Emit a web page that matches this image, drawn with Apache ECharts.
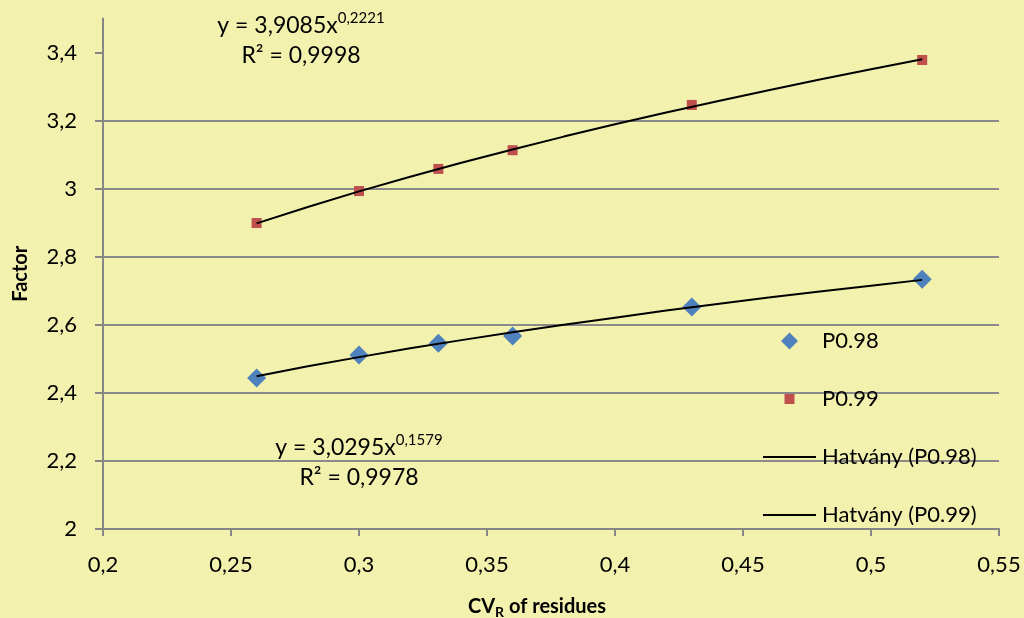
<!DOCTYPE html>
<html>
<head>
<meta charset="utf-8">
<script src="https://cdn.jsdelivr.net/npm/echarts@6/dist/echarts.min.js"></script>
<style>
html,body{margin:0;padding:0;background:#f2f1ae;}
#chart{width:1024px;height:618px;}
</style>
</head>
<body>
<div id="chart"></div>
<script>
// ---- data ----
const cvR = [0.26, 0.30, 0.331, 0.36, 0.43, 0.52];
const p098 = [2.444, 2.511, 2.546, 2.567, 2.652, 2.734];
const p099 = [2.899, 2.993, 3.058, 3.113, 3.246, 3.378];
const trendX = [0.26, 0.28, 0.30, 0.32, 0.34, 0.36, 0.38, 0.40, 0.42, 0.44, 0.46, 0.48, 0.50, 0.52];
const trend098 = [2.449, 2.478, 2.505, 2.531, 2.555, 2.578, 2.600, 2.621, 2.642, 2.661, 2.680, 2.698, 2.715, 2.732];
const trend099 = [2.898, 2.946, 2.992, 3.035, 3.076, 3.115, 3.153, 3.189, 3.224, 3.257, 3.289, 3.321, 3.351, 3.380];
const yTicks = [2, 2.2, 2.4, 2.6, 2.8, 3, 3.2, 3.4];
const seriesNames = ['P0.98', 'P0.99', 'Hatvány (P0.98)', 'Hatvány (P0.99)'];
const eq098 = ['y = 3,0295x', '0,1579', 'R² = 0,9978'];
const eq099 = ['y = 3,9085x', '0,2221', 'R² = 0,9998'];

const FONT = 'Lato, "Open Sans", sans-serif';
const pair = (xs, ys) => xs.map((x, i) => [x, ys[i]]);
const fmt = (v, d) => String(+(+v).toFixed(d)).replace('.', ',');

const chart = echarts.init(document.getElementById('chart'));
const eqRich = {
  a: {fontSize: 23, fontFamily: FONT, color: '#000', lineHeight: 30},
  s: {fontSize: 15, fontFamily: FONT, color: '#000', verticalAlign: 'top', lineHeight: 15}
};
const eqLines = (e, cx, cy) => [
  {type: 'text', x: cx, y: cy, style: {text: '{a|' + e[0] + '}{s|' + e[1] + '}', align: 'center', verticalAlign: 'middle', rich: eqRich}},
  {type: 'text', x: cx, y: cy + 30, style: {text: e[2], align: 'center', verticalAlign: 'middle', fontSize: 23, fontFamily: FONT, fill: '#000'}}
];
chart.setOption({
  backgroundColor: '#f2f1ae',
  animation: false,
  textStyle: {fontFamily: FONT},
  grid: {left: 103, right: 25, top: 18.5, bottom: 89, containLabel: false, outerBoundsMode: 'none'},
  xAxis: {
    type: 'value', min: 0.2, max: 0.55, interval: 0.05,
    axisLine: {lineStyle: {color: '#868686', width: 2}},
    axisTick: {show: true, inside: false, length: 7, lineStyle: {color: '#868686', width: 2}},
    axisLabel: {color: '#000', fontSize: 22, margin: 25, formatter: v => fmt(v, 2)},
    splitLine: {show: false},
    name: '{b|CV}{sub|R}{b| of residues}',
    nameLocation: 'middle', nameGap: 66,
    nameTextStyle: {
      padding: [0, 28, 0, 0],
      rich: {
        b: {fontSize: 20, fontWeight: 'bold', fontFamily: FONT, color: '#000'},
        sub: {fontSize: 14, fontWeight: 'bold', fontFamily: FONT, color: '#000', verticalAlign: 'bottom', padding: [10,0,0,0]}
      }
    }
  },
  yAxis: {
    type: 'value', min: 2, max: 3.5,
    axisLine: {show: true, lineStyle: {color: '#868686', width: 2}},
    axisTick: {show: true, inside: false, length: 8, customValues: yTicks, lineStyle: {color: '#868686', width: 2}},
    axisLabel: {color: '#000', fontSize: 22, margin: 26, customValues: yTicks, formatter: v => fmt(v, 1)},
    splitLine: {show: true, showMaxLine: false, lineStyle: {color: '#8a8a8a', width: 2}},
    name: 'Factor', nameLocation: 'middle', nameGap: 72,
    nameTextStyle: {fontSize: 20, fontWeight: 'bold', color: '#000'}
  },
  legend: {
    orient: 'vertical', left: 758, top: 325,
    itemWidth: 53, itemHeight: 17, itemGap: 36,
    textStyle: {fontSize: 22, color: '#000', padding: [0,0,0,1]},
    data: [
      {name: seriesNames[0], icon: 'path://M8.5,0L17,8.5L8.5,17L0,8.5Z'},
      {name: seriesNames[1], icon: 'path://M0,0M17,17M3.5,3.5L13.5,3.5L13.5,13.5L3.5,13.5Z'},
      {name: seriesNames[2], icon: 'path://M0,0L53,0L53,2L0,2Z'},
      {name: seriesNames[3], icon: 'path://M0,0L53,0L53,2L0,2Z'}
    ]
  },
  graphic: eqLines(eq099, 301, 26).concat(eqLines(eq098, 359, 448)),
  series: [
    {name: seriesNames[0], type: 'scatter', symbol: 'diamond', symbolSize: 19,
     itemStyle: {color: '#4f81bd', opacity: 1}, data: pair(cvR, p098), z: 2},
    {name: seriesNames[1], type: 'scatter', symbol: 'rect', symbolSize: 10,
     itemStyle: {color: '#c0504d', opacity: 1}, data: pair(cvR, p099), z: 2},
    {name: seriesNames[2], type: 'line', symbol: 'none', showSymbol: false,
     lineStyle: {color: '#000', width: 2}, itemStyle: {color: '#000'}, data: pair(trendX, trend098), z: 3},
    {name: seriesNames[3], type: 'line', symbol: 'none', showSymbol: false,
     lineStyle: {color: '#000', width: 2}, itemStyle: {color: '#000'}, data: pair(trendX, trend099), z: 3}
  ]
});
</script>
</body>
</html>
